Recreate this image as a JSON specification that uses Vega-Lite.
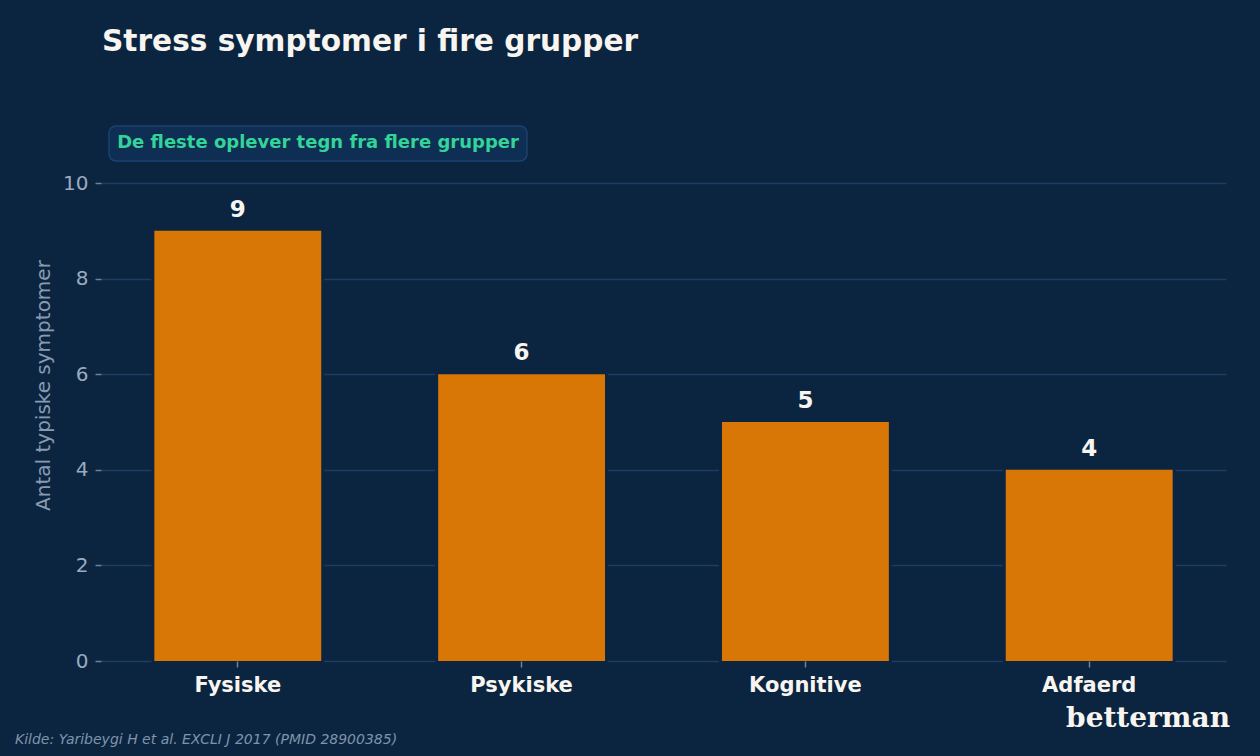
{
  "$schema": "https://vega.github.io/schema/vega-lite/v6.json",
  "width": 1125,
  "height": 478,
  "autosize": {"type": "none"},
  "padding": {"left": 101, "top": 183, "right": 34, "bottom": 95},
  "background": "#0b2541",
  "title": {
    "text": "Stress symptomer i fire grupper",
    "anchor": "start",
    "frame": "group",
    "font": "DejaVu Sans",
    "fontSize": 29.6,
    "fontWeight": "bold",
    "color": "#f8f5f0",
    "baseline": "alphabetic",
    "offset": 45,
    "dx": 1
  },
  "config": {
    "view": {"stroke": null},
    "font": "DejaVu Sans"
  },
  "layer": [
    {
      "data": {"values": [
        {"gruppe": "Fysiske", "antal": 9},
        {"gruppe": "Psykiske", "antal": 6},
        {"gruppe": "Kognitive", "antal": 5},
        {"gruppe": "Adfaerd", "antal": 4}
      ]},
      "encoding": {
        "x": {
          "field": "gruppe", "type": "nominal", "sort": null,
          "scale": {"paddingInner": 0.412, "paddingOuter": 0.188},
          "axis": {
            "title": null, "labelAngle": 0, "domain": false, "grid": false, "zindex": 1,
            "labelFont": "DejaVu Sans", "labelFontSize": 21, "labelFontWeight": "bold",
            "labelColor": "#f8f5f0", "tickColor": "#6f8299", "tickSize": 6, "tickWidth": 1.5,
            "labelPadding": 7
          }
        },
        "y": {
          "field": "antal", "type": "quantitative",
          "scale": {"domain": [0, 10], "nice": false},
          "axis": {
            "title": "Antal typiske symptomer",
            "values": [0, 2, 4, 6, 8, 10],
            "domain": false, "grid": true, "gridColor": "#1f3d64", "gridWidth": 1.5,
            "tickColor": "#6f8299", "tickSize": 6, "tickWidth": 1.5,
            "labelFont": "DejaVu Sans", "labelFontSize": 20, "labelColor": "#9aabc0", "labelPadding": 7,
            "titleFont": "DejaVu Sans", "titleFontSize": 20, "titleFontWeight": "normal", "titleColor": "#8a9bb1",
            "titleAngle": -90, "titleAlign": "center", "titleBaseline": "middle",
            "titleX": -58, "titleY": 202
          }
        }
      },
      "layer": [
        {
          "mark": {"type": "bar", "color": "#0b2541", "stroke": "#0b2541", "strokeWidth": 6}
        },
        {
          "mark": {"type": "bar", "color": "#d97706"}
        },
        {
          "mark": {"type": "text", "dy": -14, "baseline": "alphabetic", "font": "DejaVu Sans", "fontSize": 23, "fontWeight": "bold", "color": "#f8f5f0"},
          "encoding": {
            "text": {"field": "antal", "type": "quantitative"}
          }
        }
      ]
    },
    {
      "data": {"values": [{"note": "De fleste oplever tegn fra flere grupper"}]},
      "layer": [
        {
          "mark": {"type": "rect", "fill": "#0f2e53", "stroke": "#1d4170", "strokeWidth": 1.5, "cornerRadius": 7, "clip": false},
          "encoding": {
            "x": {"value": 8}, "x2": {"value": 426},
            "y": {"value": -57}, "y2": {"value": -22}
          }
        },
        {
          "mark": {"type": "text", "align": "center", "baseline": "middle", "font": "DejaVu Sans", "fontSize": 18, "fontWeight": "bold", "color": "#34d399", "clip": false},
          "encoding": {
            "x": {"value": 217}, "y": {"value": -40},
            "text": {"field": "note", "type": "nominal"}
          }
        }
      ]
    },
    {
      "data": {"values": [{"kilde": "Kilde: Yaribeygi H et al. EXCLI J 2017 (PMID 28900385)", "logo": "betterman"}]},
      "layer": [
        {
          "mark": {"type": "text", "align": "left", "baseline": "alphabetic", "font": "DejaVu Sans", "fontSize": 14, "fontStyle": "italic", "color": "#7f93ab", "clip": false},
          "encoding": {
            "x": {"value": -86}, "y": {"value": 561},
            "text": {"field": "kilde", "type": "nominal"}
          }
        },
        {
          "mark": {"type": "text", "align": "right", "baseline": "alphabetic", "font": "DejaVu Serif", "fontSize": 28, "fontWeight": "bold", "color": "#f8f5f0", "clip": false},
          "encoding": {
            "x": {"value": 1129}, "y": {"value": 544},
            "text": {"field": "logo", "type": "nominal"}
          }
        }
      ]
    }
  ]
}
